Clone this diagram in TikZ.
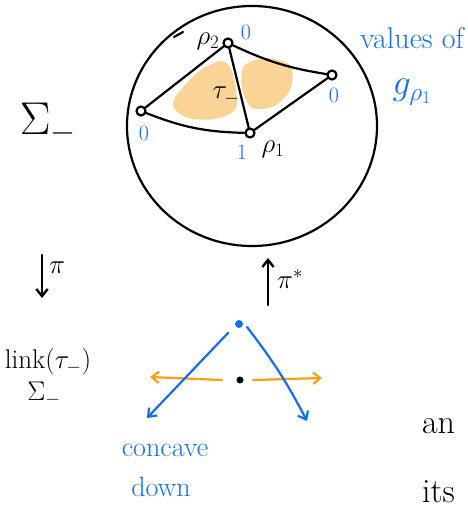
\RequirePackage{fix-cm}
\documentclass[tikz,border=0pt]{standalone}
\usetikzlibrary{arrows.meta,positioning}
\definecolor{inkblue}{RGB}{20,110,240}
\definecolor{inkorange}{RGB}{250,160,20}
\definecolor{smudge}{RGB}{250,212,150}

\begin{document}
\begin{tikzpicture}[
  x=1pt,y=-1pt,
  line width=2.2pt,line cap=round,line join=round,
  >={Straight Barb[length=2.5mm,width=4mm]},
  vert/.style={circle,draw,line width=2.2pt,fill=white,inner sep=0pt,minimum size=9pt},
  val/.style={text=inkblue,font=\fontsize{22}{24}\selectfont,inner sep=1pt},
  ink/.style={font=\fontsize{27}{29}\selectfont,inner sep=1pt},
  note/.style={text=inkblue,font=\fontsize{30}{32}\selectfont,inner sep=1pt},
  sweep/.style={->,draw=inkblue},
  slide/.style={->,draw=inkorange},
  proj/.style={->,line width=2.4pt},
]
\useasboundingbox (0,0) rectangle (467,508);

% ---- top: the star of tau_- inside Sigma_- ----
\fill[smudge] plot[smooth cycle] coordinates
  {(176,96) (198,72) (222,61) (233,74) (236,108) (214,119) (188,118) (174,108)};
\fill[smudge] plot[smooth cycle] coordinates
  {(244,66) (266,58) (291,66) (290,90) (274,106) (252,108) (242,88)};

\draw (252,126) ellipse [x radius=125, y radius=120];
\draw (183,32) -- (174,37);

\node[vert] (p2) at (228,43) {};
\node[vert] (rv) at (332,75) {};
\node[vert] (lv) at (141,111) {};
\node[vert] (p1) at (250,133) {};

\draw (p2) -- (lv);
\draw (lv) to[bend right=10] (p1);
\draw (p1) -- (p2);
\draw (p2) to[bend right=8] (rv);
\draw (rv) -- (p1);

\node[ink] (lp2) at (208,41) {$\rho_2$};
\node[ink] (lp1) at (273,149) {$\rho_1$};
\node[ink] (tau) at (226,96) {$\tau_-$};

% values of g_{rho_1} at the vertices
\node[val] (v2) at (246,32) {0};
\node[val] (vr) at (334,95) {0};
\node[val] (vl) at (144,133) {0};
\node[val] (v1) at (242,152) {1};

\node[note] (vals) at (412,38) {values of};
\node[note,font=\fontsize{36}{38}\selectfont] (grho) at (412,92) {$g_{\rho_1}$};

\node[ink,font=\fontsize{46}{48}\selectfont] (sig) at (48,124) {$\Sigma_-$};

% ---- middle: the two maps ----
\coordinate (pitop) at (42,255);
\coordinate (pibot) at (42,298);
\draw[proj] (pitop) -- (pibot);
\node[ink,anchor=west] (pi) at ([xshift=5pt,yshift=-13pt]pitop) {$\pi$};

\coordinate (pstbot) at (268,305);
\coordinate (psttop) at (268,258);
\draw[proj] (pstbot) -- (psttop);
\node[ink,anchor=west] (pist) at ([xshift=7pt,yshift=26pt]pstbot) {$\pi^*$};

% ---- bottom: the link of tau_- ----
\node[ink] (link) at (48,362) {link$(\tau_-)$};
\node[ink] (lsig) at (44,394) {$\Sigma_-$};

\node[circle,fill=inkblue,inner sep=0pt,minimum size=8pt] (bdot) at (239,324) {};
\node[circle,fill=black,inner sep=0pt,minimum size=7pt] (kdot) at (240,380) {};

\coordinate (lend) at (150,377);
\coordinate (rend) at (322,378);
\draw[slide] ([xshift=-18pt]kdot.center) -- (lend);
\draw[slide] ([xshift=13pt]kdot.center) -- (rend);

\coordinate (swl) at (147,418);
\coordinate (swr) at (307,421);
\draw[sweep] ([xshift=-11pt,yshift=-9pt]bdot.center) -- (swl);
\draw[sweep] ([xshift=8pt,yshift=-3pt]bdot.center) to[bend left=5] (swr);

\node[note,font=\fontsize{28}{30}\selectfont] (conc) at (165,450) {concave};
\node[note,font=\fontsize{28}{30}\selectfont] (down) at (161,487) {down};

% cut off at the right edge
\node[ink,font=\fontsize{34}{36}\selectfont,anchor=west] (an) at (420,426) {an};
\node[ink,font=\fontsize{34}{36}\selectfont,anchor=west] (its) at (420,492) {its};

\end{tikzpicture}
\end{document}
